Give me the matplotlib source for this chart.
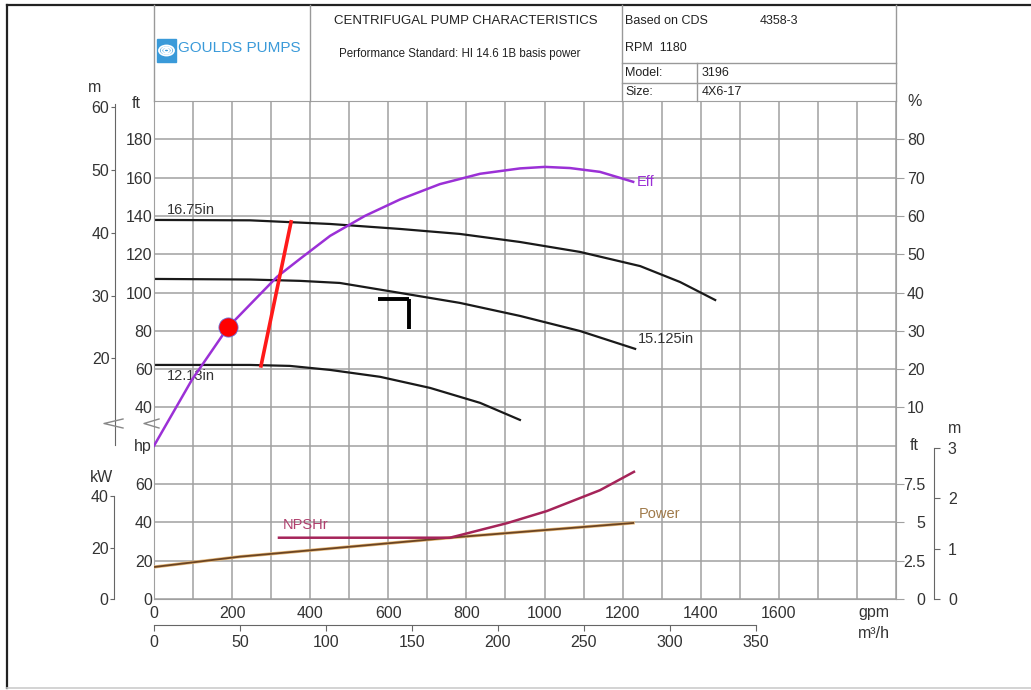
import numpy as np
import matplotlib.pyplot as plt
from matplotlib.patches import Rectangle, Circle
from matplotlib.lines import Line2D

plt.rcParams['font.family'] = ['Liberation Sans', 'DejaVu Sans']

# --- dados (vazão em gpm) ---
# curvas de altura manométrica (ft)
q_1675 = [0, 246, 451, 630, 783, 937, 1091, 1245, 1347, 1437]
h_1675 = [137.9, 137.7, 135.8, 133.2, 130.6, 126.4, 121.2, 113.8, 105.5, 96.1]
q_15125 = [0, 246, 374, 476, 630, 783, 937, 1091, 1232]
h_15125 = [107.1, 106.8, 106.1, 105.0, 99.8, 94.6, 87.8, 79.9, 70.6]
q_1213 = [0, 246, 348, 451, 579, 707, 835, 937]
h_1213 = [62.2, 62.2, 61.7, 59.6, 56.0, 50.2, 42.4, 33.5]

# eficiência (%)
q_eff = [0, 97, 190, 315, 374, 451, 540, 630, 732, 835, 937, 1001, 1065, 1142, 1227]
eff = [0, 17.2, 31.0, 44.1, 48.8, 54.8, 60.0, 64.3, 68.3, 71.0, 72.4, 72.8, 72.5, 71.5, 68.9]

# linha vermelha, ponto de operação e marcador "T"
q_red = [274, 351]
h_red = [61.7, 136.9]
q_dot = [190]
h_dot = [82.0]
q_tee = [574, 653, 653]
h_tee = [96.7, 96.7, 81.0]

# potência (hp) e NPSHr (ft)
q_pwr = [0, 220, 758, 1227]
pwr_hp = [16.7, 22.1, 32.0, 39.7]
q_npsh = [320, 758, 904, 1006, 1142, 1229]
npsh_ft = [4.0, 4.0, 4.95, 5.74, 7.1, 8.3]

# --- figura ---
W, H = 1031, 690
def fx(px): return px / W
def fy(py): return 1 - py / H

fig = plt.figure(figsize=(W / 100, H / 100), dpi=100)

L, R, T, B = 154, 896, 101, 599
rect = [fx(L), fy(B), (R - L) / W, (B - T) / H]

GRID = '#a0a0a0'
TXT = '#333333'
SP = '#666666'
FS = 11.5

ax = fig.add_axes(rect)
ax.set_facecolor('none')
ax.set_xlim(0, 1900)
ax.set_ylim(-60, 200)
xt = list(range(0, 1901, 100))
ax.set_xticks(xt)
ax.set_xticklabels([str(v) if v % 200 == 0 and v <= 1600 else '' for v in xt])
yt = list(range(-60, 201, 20))
ax.set_yticks(yt)
ax.set_yticklabels([str(v) if 40 <= v <= 180 else '' for v in yt])
ax.grid(True, color=GRID, lw=1.1)
ax.tick_params(length=0, labelsize=FS, labelcolor=TXT)
ax.tick_params(axis='x', pad=5)
ax.tick_params(axis='y', pad=1)
for s in ax.spines.values():
    s.set_color(GRID)

ax.plot(q_1675, h_1675, color='#1a1a1a', lw=1.6)
ax.plot(q_15125, h_15125, color='#1a1a1a', lw=1.6)
ax.plot(q_1213, h_1213, color='#1a1a1a', lw=1.6)
ax.plot(q_tee[:2], h_tee[:2], color='black', lw=2.8, solid_capstyle='butt')
ax.plot(q_tee[1:], h_tee[1:], color='black', lw=2.8, solid_capstyle='butt')

ax.text(33, 139.5, '16.75in', fontsize=10.5, color=TXT, va='bottom')
ax.text(1240, 72, '15.125in', fontsize=10.5, color=TXT, va='bottom')
ax.text(33, 60, '12.13in', fontsize=10.5, color=TXT, va='top')

# potência (hp, eixo da esquerda inferior)
ax_hp = ax.twinx()
ax_hp.set_ylim(0, 260)
ax_hp.yaxis.tick_left()
ax_hp.set_yticks([0, 20, 40, 60])
ax_hp.tick_params(axis='y', length=0, pad=1, labelsize=FS, labelcolor=TXT)
for s in ax_hp.spines.values():
    s.set_visible(False)
ax_hp.plot(q_pwr, pwr_hp, color='#e6b878', lw=2.3)
ax_hp.plot(q_pwr, pwr_hp, color='#6b4423', lw=1.3)
ax_hp.text(1240, 40.5, 'Power', fontsize=10.5, color='#a07a4a', va='bottom')

# NPSHr (ft, eixo da direita inferior)
ax_np = ax.twinx()
ax_np.set_ylim(0, 32.5)
ax_np.set_yticks([0, 2.5, 5, 7.5])
ax_np.set_yticklabels(['0', '2.5', '5', '7.5'])
ax_np.tick_params(axis='y', length=5.8, color=GRID, labelsize=FS, labelcolor=TXT, pad=15)
for lab in ax_np.get_yticklabels():
    lab.set_horizontalalignment('right')
for s in ax_np.spines.values():
    s.set_visible(False)
ax_np.plot(q_npsh, npsh_ft, color='#a52459', lw=1.8)
ax_np.text(330, 4.4, 'NPSHr', fontsize=10.5, color='#b0406e', va='bottom')

# eficiência (eixo da direita, %)
ax_eff = ax.twinx()
ax_eff.set_ylim(-40, 90)
ax_eff.plot(q_eff, eff, color='#9b30d6', lw=1.8)
ax_eff.text(1237, 68.9, 'Eff', fontsize=10.5, color='#9b30d6', va='center')
ax_eff.set_yticks(range(10, 81, 10))
ax_eff.tick_params(axis='y', length=5.8, color=GRID, labelsize=FS, labelcolor=TXT, pad=15)
for lab in ax_eff.get_yticklabels():
    lab.set_horizontalalignment('right')
for s in ax_eff.spines.values():
    s.set_visible(False)

# linha vermelha e ponto por cima da curva de eficiência (escala em ft)
ax_eff.plot(q_red, h_red, color='#ff1a1a', lw=2.6, transform=ax.transData)
ax_eff.scatter(q_dot, h_dot, s=190, color='#ff0000', edgecolor='#6a6ad8', lw=0.6,
               transform=ax.transData, zorder=6)

# escalas secundárias em unidades SI
m_left = ax.secondary_yaxis(-39 / 742, functions=(lambda f: f / 3.2808, lambda m: m * 3.2808))
m_left.spines['left'].set_bounds(6.2, 60.5)
m_left.set_yticks([20, 30, 40, 50, 60])
m_left.tick_params(length=3, color=SP, labelsize=FS, labelcolor=TXT, pad=1)
m_left.spines['left'].set_color(SP)

kw_left = ax_hp.secondary_yaxis(-40 / 742, functions=(lambda h: h * 0.7457, lambda k: k / 0.7457))
kw_left.spines['left'].set_bounds(0, 40)
kw_left.set_yticks([0, 20, 40])
kw_left.tick_params(length=3, color=SP, labelsize=FS, labelcolor=TXT, pad=1)
kw_left.spines['left'].set_color(SP)

m_right = ax_np.secondary_yaxis(780 / 742, functions=(lambda f: f / 3.2808, lambda m: m * 3.2808))
m_right.spines['right'].set_bounds(0, 3)
m_right.set_yticks([0, 1, 2, 3])
m_right.tick_params(length=4, color=SP, labelsize=FS, labelcolor=TXT, pad=6)
m_right.spines['right'].set_color(SP)

m3h = ax.secondary_xaxis(-26 / 498, functions=(lambda q: q / 4.4029, lambda c: c * 4.4029))
m3h.spines['bottom'].set_bounds(0, 350)
m3h.set_xticks(range(0, 351, 50))
m3h.tick_params(length=4, color=SP, labelsize=FS, labelcolor=TXT, pad=3)
m3h.spines['bottom'].set_color(SP)

# rótulos de unidades
fig.text(fx(88), fy(87), 'm', fontsize=FS, color=TXT, va='center')
fig.text(fx(132), fy(103), 'ft', fontsize=FS, color=TXT, va='center')
fig.text(fx(152), fy(447), 'hp', fontsize=FS, color=TXT, va='center', ha='right')
fig.text(fx(90), fy(477), 'kW', fontsize=FS, color=TXT, va='center')
fig.text(fx(907), fy(102), '%', fontsize=FS, color=TXT, va='center')
fig.text(fx(910), fy(446), 'ft', fontsize=FS, color=TXT, va='center')
fig.text(fx(948), fy(428), 'm', fontsize=FS, color=TXT, va='center')
fig.text(fx(858), fy(612), 'gpm', fontsize=FS, color=TXT, va='center')
fig.text(fx(858), fy(633), 'm³/h', fontsize=FS, color=TXT, va='center')

# marcas de quebra de escala
for x0, x1 in [(104, 123), (144, 159)]:
    fig.add_artist(Line2D([fx(x1), fx(x0), fx(x1)], [fy(419), fy(423.5), fy(428)],
                          color='#888888', lw=1))

# moldura e cabeçalho
def hline(x0, x1, y, **kw):
    fig.add_artist(Line2D([fx(x0), fx(x1)], [fy(y), fy(y)], **kw))

def vline(x, y0, y1, **kw):
    fig.add_artist(Line2D([fx(x), fx(x)], [fy(y0), fy(y1)], **kw))

hline(7, 1031, 5, color='#222222', lw=1.6)
vline(7, 5, 688, color='#222222', lw=1.6)
hline(7, 1031, 688, color='#cccccc', lw=1.2)
for x in (154, 310, 622, 896):
    vline(x, 5, T, color='#999999', lw=1.0)
hline(622, 896, 63, color='#999999', lw=1.0)
hline(622, 896, 83, color='#999999', lw=1.0)
vline(697, 63, T, color='#999999', lw=1.0)

fig.text(fx(466), fy(21), 'CENTRIFUGAL PUMP CHARACTERISTICS', fontsize=9.5,
         color='#222222', ha='center', va='center')
fig.text(fx(460), fy(54), 'Performance Standard: HI 14.6 1B basis power', fontsize=8.3,
         color='#222222', ha='center', va='center')
fig.text(fx(625), fy(21), 'Based on CDS', fontsize=9, color='#222222', va='center')
fig.text(fx(760), fy(21), '4358-3', fontsize=9, color='#222222', va='center')
fig.text(fx(625), fy(48), 'RPM  1180', fontsize=9, color='#222222', va='center')
fig.text(fx(625), fy(73), 'Model:', fontsize=9, color='#222222', va='center')
fig.text(fx(702), fy(73), '3196', fontsize=9, color='#222222', va='center')
fig.text(fx(625), fy(92), 'Size:', fontsize=9, color='#222222', va='center')
fig.text(fx(702), fy(92), '4X6-17', fontsize=9, color='#222222', va='center')

# logotipo
fig.add_artist(Rectangle((fx(157), fy(62)), 19 / W, 23 / H, color='#3a9ad9'))
for r in (7.5, 5, 2.5):
    fig.add_artist(Circle((fx(166.5), fy(50.5)), r / W, fill=False, ec='white', lw=1.3))
fig.text(fx(178), fy(48), 'GOULDS PUMPS', fontsize=11, color='#3a9ad9', va='center')

fig.savefig('out.png', dpi=100)
